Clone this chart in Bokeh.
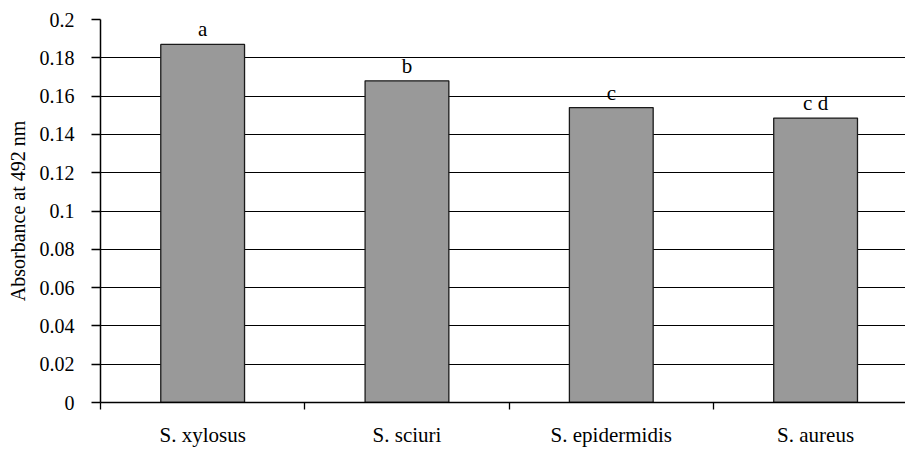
from bokeh.plotting import figure
from bokeh.models import FixedTicker, ColumnDataSource, Range1d
from bokeh.core.properties import value
from bokeh.embed import file_html
from bokeh.resources import INLINE

categories = ["S. xylosus", "S. sciuri", "S. epidermidis", "S. aureus"]
absorbance = [0.187, 0.168, 0.154, 0.1485]
letters = ["a", "b", "c", "c d"]
y_ticks = [0, 0.02, 0.04, 0.06, 0.08, 0.1, 0.12, 0.14, 0.16, 0.18, 0.2]
y_tick_labels = ["0", "0.02", "0.04", "0.06", "0.08", "0.1", "0.12", "0.14", "0.16", "0.18", "0.2"]

FONT = "Liberation Serif"
centers = [i + 0.5 for i in range(len(categories))]

p = figure(width=905, height=449, output_backend="svg", toolbar_location=None,
           x_range=Range1d(0, 3.94), y_range=Range1d(0, 0.2),
           min_border_left=100, min_border_right=0, min_border_top=19, min_border_bottom=46)
p.outline_line_color = None
p.background_fill_color = "white"
p.border_fill_color = "white"

src = ColumnDataSource(dict(x=centers, top=absorbance, lab=letters))
p.vbar(x="x", top="top", bottom=0, width=0.41, source=src,
       fill_color="#999999", line_color="#1a1a1a", line_width=1.3)
p.text(x="x", y="top", text="lab", source=src, text_align="center", text_baseline="bottom",
       y_offset=-3, text_font=value(FONT), text_font_size="21px", text_color="black")

# x axis
p.xaxis.ticker = FixedTicker(ticks=centers, minor_ticks=[0, 1, 2, 3, 4])
p.xaxis.major_label_overrides = {c: n for c, n in zip(centers, categories)}
p.xaxis.major_tick_out = 0
p.xaxis.major_tick_in = 0
p.xaxis.minor_tick_out = 7
p.xaxis.minor_tick_in = 0
p.xaxis.minor_tick_line_color = "black"
p.xaxis.minor_tick_line_width = 1.3
p.xaxis.axis_line_color = "black"
p.xaxis.axis_line_width = 1.5
p.xaxis.major_label_standoff = 13
p.xaxis.major_label_text_font = FONT
p.xaxis.major_label_text_font_size = "21px"
p.xaxis.major_label_text_color = "black"

# y axis
p.yaxis.ticker = FixedTicker(ticks=y_ticks)
p.yaxis.major_label_overrides = {t: l for t, l in zip(y_ticks, y_tick_labels)}
p.yaxis.major_tick_out = 9
p.yaxis.major_tick_in = 0
p.yaxis.minor_tick_line_color = None
p.yaxis.major_tick_line_color = "black"
p.yaxis.major_tick_line_width = 1.3
p.yaxis.axis_line_color = "black"
p.yaxis.axis_line_width = 1.5
p.yaxis.major_label_standoff = 17
p.yaxis.major_label_text_font = FONT
p.yaxis.major_label_text_font_size = "20px"
p.yaxis.major_label_text_color = "black"
p.yaxis.axis_label = "Absorbance at 492 nm"
p.yaxis.axis_label_text_font = FONT
p.yaxis.axis_label_text_font_size = "20px"
p.yaxis.axis_label_text_font_style = "normal"
p.yaxis.axis_label_text_color = "black"
p.yaxis.axis_label_standoff = 8

p.xgrid.grid_line_color = None
p.ygrid.ticker = FixedTicker(ticks=y_ticks[1:])
p.ygrid.grid_line_color = "black"
p.ygrid.grid_line_width = 1.2
p.ygrid.level = "underlay"

open("out.html", "w").write(file_html(p, INLINE))
